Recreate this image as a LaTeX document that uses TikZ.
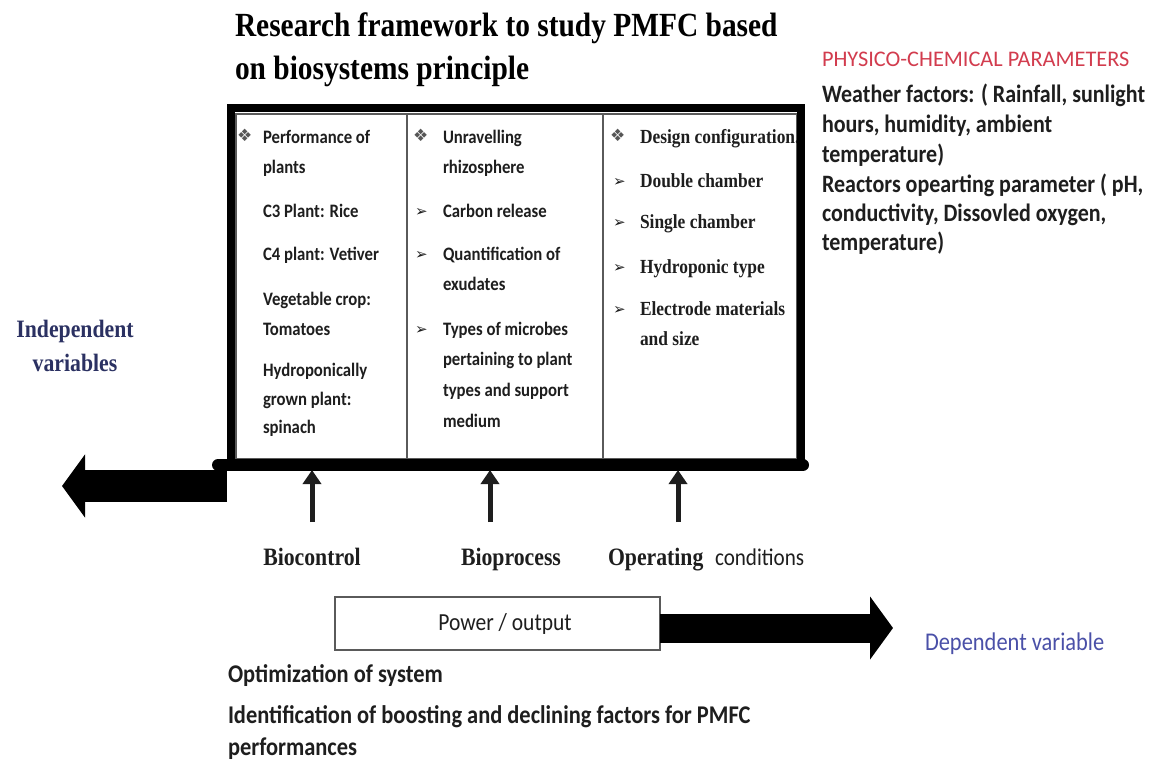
\documentclass[tikz,border=0pt]{standalone}
\usepackage{fontspec}
\usetikzlibrary{arrows.meta}
\newfontfamily\tserif{Liberation Serif}[FakeStretch=0.87]
\newfontfamily\csans{Carlito}
\newfontfamily\csanc{Carlito}[FakeStretch=0.88]
\newfontfamily\dvs{DejaVu Sans}
\definecolor{ink}{HTML}{1E1E1E}
\definecolor{navy}{HTML}{2B3162}
\definecolor{pred}{HTML}{D23C4E}
\definecolor{dblue}{HTML}{4A50A8}
\definecolor{rulegray}{HTML}{5A5A5A}
\tikzset{
  every node/.style={inner sep=0pt, outer sep=0pt, anchor=base west},
  ttl/.style={font=\tserif\bfseries\fontsize{33.8}{36}\selectfont, text=black},
  tx/.style={font=\csanc\bfseries\fontsize{19}{22}\selectfont, text=ink},
  sx/.style={font=\tserif\bfseries\fontsize{20}{24}\selectfont, text=ink},
  bl/.style={font=\dvs\fontsize{17}{18}\selectfont, text=ink!75},
  al/.style={font=\dvs\fontsize{15}{16}\selectfont, text=ink},
  lb/.style={font=\tserif\bfseries\fontsize{25}{28}\selectfont, text=ink},
  lbn/.style={font=\tserif\bfseries\fontsize{25}{28}\selectfont, text=navy, anchor=base},
  rhd/.style={font=\csans\fontsize{22.3}{26}\selectfont, text=pred},
  rt/.style={font=\csanc\bfseries\fontsize{25}{26}\selectfont, text=ink},
  bt/.style={font=\csanc\bfseries\fontsize{25.5}{26}\selectfont, text=ink},
  frame/.style={line width=8pt, draw=black},
  thinrule/.style={draw=rulegray, line width=1.2pt},
  uparrow/.style={line width=5pt, draw=ink, -{Triangle[length=14pt,width=18pt]}},
  bigleft/.style={line width=32pt, draw=black, -{Triangle[length=23pt,width=62pt]}},
  bigright/.style={line width=29pt, draw=black, -{Triangle[length=23pt,width=62pt]}},
}
\begin{document}
\begin{tikzpicture}[x=1pt,y=-1pt]
\useasboundingbox (0,0) rectangle (1170,773);
\fill[white] (0,0) rectangle (1170,773);

% title
\node[ttl] (t1) at (235,37) {Research framework to study PMFC based};
\node[ttl] (t2) at (235,80) {on biosystems principle};

% right parameter text
\node[rhd] (p0) at (822,67) {PHYSICO-CHEMICAL PARAMETERS};
\node[rt] (p1) at (822,103) {Weather factors: ( Rainfall, sunlight};
\node[rt] (p2) at (822,133) {hours, humidity, ambient};
\node[rt] (p3) at (822,162) {temperature)};
\node[rt] (p4) at (822,192) {Reactors opearting parameter ( pH,};
\node[rt] (p5) at (822,221) {conductivity, Dissovled oxygen,};
\node[rt] (p6) at (822,250) {temperature)};

% table
\draw[thinrule] (236,114) rectangle (797,459);
\draw[thinrule] (407,114) -- (407,459);
\draw[thinrule] (603,114) -- (603,459);

% column 1
\node[bl] (b11) at (237,142) {❖};
\node[tx] (a1) at (263,143) {Performance of};
\node[tx] (a2) at (263,173) {plants};
\node[tx] (a3) at (263,217) {C3 Plant: Rice};
\node[tx] (a4) at (263,260) {C4 plant: Vetiver};
\node[tx] (a5) at (263,305) {Vegetable crop:};
\node[tx] (a6) at (263,335) {Tomatoes};
\node[tx] (a7) at (263,376) {Hydroponically};
\node[tx] (a8) at (263,405) {grown plant:};
\node[tx] (a9) at (263,433) {spinach};

% column 2
\node[bl] (b21) at (413,142) {❖};
\node[tx] (m1) at (443,143) {Unravelling};
\node[tx] (m2) at (443,173) {rhizosphere};
\node[al] (b22) at (415,216) {➢};
\node[tx] (m3) at (443,217) {Carbon release};
\node[al] (b23) at (415,259) {➢};
\node[tx] (m4) at (443,260) {Quantification of};
\node[tx] (m5) at (443,290) {exudates};
\node[al] (b24) at (415,334) {➢};
\node[tx] (m6) at (443,335) {Types of microbes};
\node[tx] (m7) at (443,365) {pertaining to plant};
\node[tx] (m8) at (443,396) {types and support};
\node[tx] (m9) at (443,427) {medium};

% column 3
\begin{scope}
\clip (603,114) rectangle (797,459);
\node[bl] (b31) at (610,142) {❖};
\node[sx] (r1) at (640,143) {Design configuration.};
\end{scope}
\node[al] (b32) at (613,186) {➢};
\node[sx] (r2) at (640,187) {Double chamber};
\node[al] (b33) at (613,227) {➢};
\node[sx] (r3) at (640,228) {Single chamber};
\node[al] (b34) at (613,272) {➢};
\node[sx] (r4) at (640,273) {Hydroponic type};
\node[al] (b35) at (613,314) {➢};
\node[sx] (r5) at (640,315) {Electrode materials};
\node[sx] (r6) at (640,345) {and size};

% thick frame
\draw[frame] (231,108) rectangle (801,465);
\draw[line width=12pt, line cap=round] (218,465) -- (803,465);

% independent variables
\node[lbn] (iv1) at (75,337) {Independent};
\node[lbn] (iv2) at (75,371) {variables};

% big left arrow
\coordinate (la0) at (227,486);
\coordinate (la1) at (62,486);
\draw[bigleft] (la0) -- (la1);

% up arrows and labels
\coordinate (u1) at (312,522);
\coordinate (u1t) at (312,470);
\coordinate (u2) at (490,522);
\coordinate (u2t) at (490,470);
\coordinate (u3) at (678,522);
\coordinate (u3t) at (678,470);
\draw[uparrow] (u1) -- (u1t);
\draw[uparrow] (u2) -- (u2t);
\draw[uparrow] (u3) -- (u3t);
\node[lb, anchor=base] (l1) at (312,565) {Biocontrol};
\node[lb, anchor=base] (l2) at (511,565) {Bioprocess};
\node[lb] (l3) at (608,565) {Operating};
\node[font=\csanc\fontsize{24}{24}\selectfont, text=ink] (l4) at (715,565) {conditions};

% power / output
\node[draw=rulegray, line width=1.2pt, minimum width=325pt, minimum height=53pt, anchor=center,
      font=\csanc\fontsize{24.5}{26}\selectfont, text=ink] (pw) at (497.5,623.5) {\hspace*{15pt}Power / output};
\coordinate (ra1) at (893,628);
\draw[bigright] ([yshift=-4.5pt]pw.east) -- (ra1);
\node[font=\csanc\fontsize{25.5}{26}\selectfont, text=dblue] (dv) at (925,650) {Dependent variable};

% bottom text
\node[bt] (o1) at (228,682) {Optimization of system};
\node[bt] (o2) at (228,723) {Identification of boosting and declining factors for PMFC};
\node[bt] (o3) at (228,755) {performances};
\end{tikzpicture}
\end{document}
